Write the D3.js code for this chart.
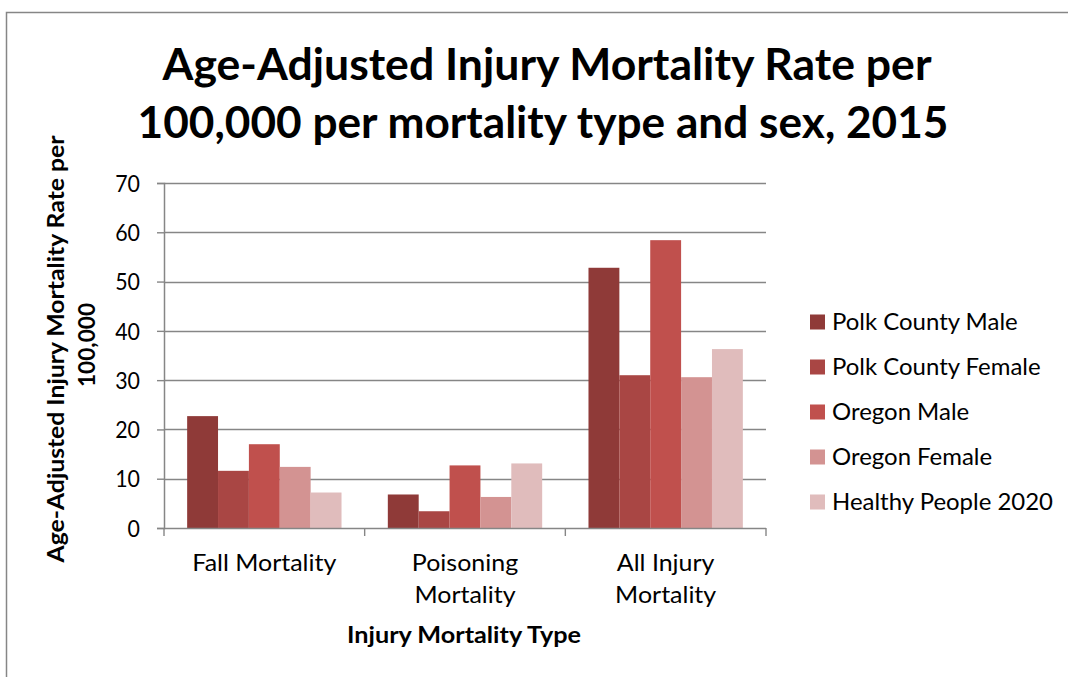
<!DOCTYPE html>
<html>
<head>
<meta charset="utf-8">
<script src="https://cdn.jsdelivr.net/npm/d3@7"></script>
<style>
  body { margin: 0; background: #fff; }
  text { font-family: Lato, "Open Sans", sans-serif; fill: #000; }
</style>
</head>
<body>
<svg id="chart" width="1068" height="677"></svg>
<script>
// data
const categories = [["Fall Mortality"], ["Poisoning", "Mortality"], ["All Injury", "Mortality"]]
const seriesNames = ["Polk County Male", "Polk County Female", "Oregon Male", "Oregon Female", "Healthy People 2020"]
const polkMale = [22.7, 6.8, 52.8]
const polkFemale = [11.6, 3.4, 31.0]
const oregonMale = [17.0, 12.7, 58.4]
const oregonFemale = [12.4, 6.3, 30.6]
const healthyPeople = [7.2, 13.1, 36.3]
const yTicks = [0, 10, 20, 30, 40, 50, 60, 70]
const colors = ["#8f3a38", "#a94644", "#c0504d", "#d39392", "#e0bcbc"]

const values = [polkMale, polkFemale, oregonMale, oregonFemale, healthyPeople]
const catKeys = categories.map(c => c.join(" "))

const svg = d3.select("#chart")
const gridColor = "#868686"

// force text to a wanted width (Calibri metrics differ from what we have)
function fitTo(sel, width) {
    sel.attr("textLength", width).attr("lengthAdjust", "spacingAndGlyphs")
}
function scaleBy(sel, factor) {
    sel.each(function () {
        const w = this.getComputedTextLength()
        d3.select(this).attr("textLength", w * factor).attr("lengthAdjust", "spacingAndGlyphs")
    })
}

// outer border of chart area
svg.append("rect")
    .attr("x", 6.5).attr("y", 12.5)
    .attr("width", 1100).attr("height", 700)
    .attr("fill", "none").attr("stroke", gridColor).attr("stroke-width", 1.5)

const plotLeft = 164, plotRight = 766, plotTop = 183, plotBottom = 528

const x0 = d3.scaleBand().domain(catKeys).range([plotLeft, plotRight])
const x1 = d3.scaleBand().domain(seriesNames).range([0, x0.bandwidth()]).paddingOuter(0.75)
const y = d3.scaleLinear().domain([0, 70]).range([plotBottom, plotTop])

// gridlines
svg.append("g").selectAll("line").data(yTicks.filter(d => d > 0)).join("line")
    .attr("x1", plotLeft).attr("x2", plotRight)
    .attr("y1", d => Math.round(y(d)) + 0.5).attr("y2", d => Math.round(y(d)) + 0.5)
    .attr("stroke", gridColor).attr("stroke-width", 1.4)

// bars
const groups = svg.append("g").selectAll("g").data(catKeys).join("g")
    .attr("transform", d => `translate(${x0(d)},0)`)
groups.selectAll("rect")
    .data((d, ci) => seriesNames.map((s, si) => ({ s, si, v: values[si][ci] })))
    .join("rect")
    .attr("x", d => x1(d.s))
    .attr("width", x1.bandwidth())
    .attr("y", d => y(d.v))
    .attr("height", d => plotBottom - y(d.v))
    .attr("fill", d => colors[d.si])

// y axis
const yAxis = svg.append("g")
    .attr("transform", `translate(${plotLeft},0)`)
    .call(d3.axisLeft(y).tickValues(yTicks).tickSize(7).tickPadding(17))
yAxis.select(".domain").attr("stroke", gridColor).attr("stroke-width", 1.5)
yAxis.selectAll(".tick line").attr("stroke", gridColor).attr("stroke-width", 1.4)
yAxis.selectAll(".tick text")
    .attr("font-size", 23).attr("font-family", "Lato, sans-serif").attr("fill", "#000")
    .attr("dy", "0.36em")
    .call(scaleBy, 0.93)

// x axis: line with ticks at category boundaries
const xAxisG = svg.append("g")
xAxisG.append("line")
    .attr("x1", plotLeft).attr("x2", plotRight)
    .attr("y1", plotBottom + 0.5).attr("y2", plotBottom + 0.5)
    .attr("stroke", gridColor).attr("stroke-width", 1.5)
const bounds = catKeys.map(k => x0(k)).concat([plotRight])
xAxisG.selectAll("line.tk").data(bounds).join("line").attr("class", "tk")
    .attr("x1", d => d).attr("x2", d => d)
    .attr("y1", plotBottom).attr("y2", plotBottom + 8)
    .attr("stroke", gridColor).attr("stroke-width", 1.4)

// category labels
const catLabels = svg.append("g").selectAll("text").data(categories).join("text")
    .attr("x", (d, i) => x0(catKeys[i]) + x0.bandwidth() / 2)
    .attr("y", 571)
    .attr("text-anchor", "middle")
    .attr("font-size", 24)
catLabels.selectAll("tspan").data(d => d).join("tspan")
    .attr("x", function () { return this.parentNode.getAttribute("x") })
    .attr("dy", (d, i) => i === 0 ? 0 : 32)
    .text(d => d)
// "Fall Mortality" is about 144px wide in the picture
let fallW = catLabels.select("tspan").node().getComputedTextLength()
catLabels.selectAll("tspan").call(scaleBy, 144 / fallW)

// x axis title
svg.append("text")
    .attr("x", 464).attr("y", 643)
    .attr("text-anchor", "middle")
    .attr("font-size", 23).attr("font-weight", "bold")
    .text("Injury Mortality Type")
    .call(fitTo, 234)

// y axis title (two lines, rotated)
const yTitle = svg.append("g").attr("transform", "translate(64,349) rotate(-90)")
yTitle.append("text")
    .attr("text-anchor", "middle").attr("font-size", 23).attr("font-weight", "bold")
    .text("Age-Adjusted Injury Mortality Rate per")
    .call(fitTo, 427)
yTitle.append("text")
    .attr("x", 4).attr("y", 31)
    .attr("text-anchor", "middle").attr("font-size", 23).attr("font-weight", "bold")
    .text("100,000")
    .call(fitTo, 84)

// title
const titleLines = ["Age-Adjusted Injury Mortality Rate per", "100,000 per mortality type and sex, 2015"]
const titleWidths = [769, 811]
const titleX = [547, 543]
svg.append("g").selectAll("text").data(titleLines).join("text")
    .attr("x", (d, i) => titleX[i])
    .attr("y", (d, i) => 80 + i * 58)
    .attr("text-anchor", "middle")
    .attr("font-size", 43).attr("font-weight", "bold")
    .text(d => d)
    .each(function (d, i) { d3.select(this).call(fitTo, titleWidths[i]) })

// legend
const legend = svg.append("g").selectAll("g").data(seriesNames).join("g")
    .attr("transform", (d, i) => `translate(810,${322 + i * 45})`)
legend.append("rect")
    .attr("x", 0).attr("y", -7.5).attr("width", 15).attr("height", 15)
    .attr("fill", (d, i) => colors[i])
const legendText = legend.append("text")
    .attr("x", 22).attr("y", 8)
    .attr("font-size", 23)
    .text(d => d)
// match longest entry width (Healthy People 2020 ≈ 221px)
let longest = 0
legendText.each(function () { longest = Math.max(longest, this.getComputedTextLength()) })
legendText.call(scaleBy, 221 / longest)
</script>
</body>
</html>
